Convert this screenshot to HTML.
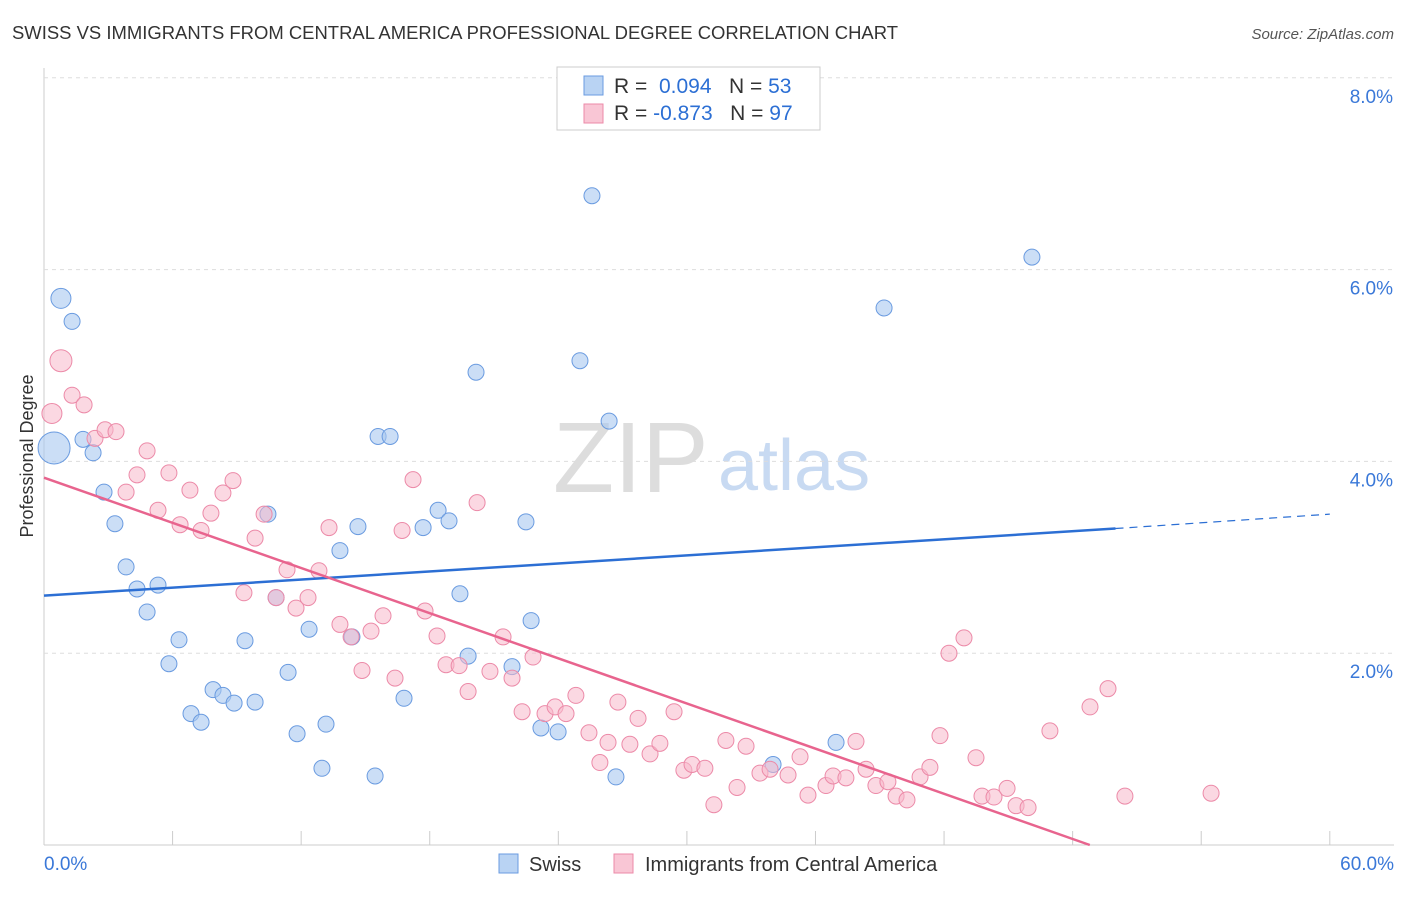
<!DOCTYPE html>
<html><head><meta charset="utf-8"><style>
body{margin:0;background:#fff;font-family:"Liberation Sans",sans-serif}
svg text{font-family:"Liberation Sans",sans-serif}
</style></head><body>
<svg id="chart" width="1406" height="892" viewBox="0 0 1406 892">
<text x="12" y="39" font-size="18" fill="#333" textLength="886" lengthAdjust="spacingAndGlyphs">SWISS VS IMMIGRANTS FROM CENTRAL AMERICA PROFESSIONAL DEGREE CORRELATION CHART</text>
<text x="1394" y="39" font-size="15" fill="#555" font-style="italic" text-anchor="end">Source: ZipAtlas.com</text>
<text x="33" y="456" font-size="18" fill="#333" text-anchor="middle" transform="rotate(-90 33 456)">Professional Degree</text>
<g><text x="553" y="492" font-size="100" fill="#ddd" font-family="Liberation Serif,serif">ZIP</text><text x="718" y="490" font-size="72" fill="#c8daf2">atlas</text></g>
<g id="grid"></g><g id="pts"></g><g id="lines"></g>
<g>
<rect x="557" y="67" width="263" height="63" fill="#fff" stroke="#ccc"/>
<rect x="584" y="76" width="19" height="19" fill="#b9d3f3" stroke="#6a9be0"/>
<rect x="584" y="104" width="19" height="19" fill="#f9c6d5" stroke="#ec8aa8"/>
<text x="614" y="93" font-size="21" fill="#333">R = <tspan fill="#2c6fd4">&#160;0.094</tspan>&#160;&#160;&#160;N = <tspan fill="#2c6fd4">53</tspan></text>
<text x="614" y="120" font-size="21" fill="#333">R = <tspan fill="#2c6fd4">-0.873</tspan>&#160;&#160;&#160;N = <tspan fill="#2c6fd4">97</tspan></text>
</g>
<g>
<rect x="499" y="854" width="19" height="19" fill="#b9d3f3" stroke="#6a9be0"/>
<text x="529" y="871" font-size="20" fill="#333">Swiss</text>
<rect x="614" y="854" width="19" height="19" fill="#f9c6d5" stroke="#ec8aa8"/>
<text x="645" y="871" font-size="20" fill="#333">Immigrants from Central America</text>
</g>
</svg>
<script>
const xTicksVal=[0,6,12,18,24,30,36,42,48,54,60];
const yTicksVal=[2,4,6,8];
const yTickLabels=["2.0%","4.0%","6.0%","8.0%"];
const xEndLabels=["0.0%","60.0%"];
const swissX=[0.79,1.31,0.47,1.82,2.29,2.80,3.31,3.83,4.34,4.81,5.32,5.83,6.30,6.86,7.33,7.89,8.35,8.87,9.38,9.85,10.45,10.83,11.39,11.81,12.37,12.97,13.16,13.81,14.37,14.65,15.45,15.59,16.15,16.80,17.69,18.39,18.90,19.41,19.79,20.16,21.84,22.49,22.73,23.19,23.99,25.01,25.57,26.37,26.69,34.02,36.96,39.20,46.10];
const swissY=[5.70,5.46,4.14,4.23,4.09,3.68,3.35,2.90,2.67,2.43,2.71,1.89,2.14,1.37,1.28,1.62,1.56,1.48,2.13,1.49,3.45,2.58,1.80,1.16,2.25,0.80,1.26,3.07,2.17,3.32,0.72,4.26,4.26,1.53,3.31,3.49,3.38,2.62,1.97,4.93,1.86,3.37,2.34,1.22,1.18,5.05,6.77,4.42,0.71,0.84,1.07,5.60,6.13];
const swissR={0:10,2:16};
const immX=[0.37,0.79,1.31,1.87,2.38,2.85,3.36,3.83,4.34,4.81,5.32,5.83,6.35,6.81,7.33,7.79,8.35,8.82,9.33,9.85,10.27,10.83,11.34,11.76,12.32,12.83,13.30,13.81,14.33,14.84,15.26,15.82,16.38,16.71,17.22,17.78,18.34,18.76,19.37,19.79,20.21,20.81,21.42,21.84,22.31,22.82,23.38,23.85,24.36,24.82,25.43,25.94,26.32,26.78,27.34,27.72,28.28,28.74,29.40,29.86,30.24,30.84,31.26,31.82,32.34,32.76,33.41,33.88,34.72,35.28,35.65,36.49,36.82,37.42,37.89,38.36,38.82,39.38,39.76,40.27,40.88,41.34,41.81,42.23,42.93,43.49,43.77,44.33,44.94,45.36,45.92,46.94,48.81,49.65,50.44,54.46];
const immY=[4.50,5.05,4.69,4.59,4.24,4.33,4.31,3.68,3.86,4.11,3.49,3.88,3.34,3.70,3.28,3.46,3.67,3.80,2.63,3.20,3.45,2.58,2.87,2.47,2.58,2.86,3.31,2.30,2.17,1.82,2.23,2.39,1.74,3.28,3.81,2.44,2.18,1.88,1.87,1.60,3.57,1.81,2.17,1.74,1.39,1.96,1.37,1.44,1.37,1.56,1.17,0.86,1.07,1.49,1.05,1.32,0.95,1.06,1.39,0.78,0.84,0.80,0.42,1.09,0.60,1.03,0.75,0.79,0.73,0.92,0.52,0.62,0.72,0.70,1.08,0.79,0.62,0.66,0.51,0.47,0.71,0.81,1.14,2.00,2.16,0.91,0.51,0.50,0.59,0.41,0.39,1.19,1.44,1.63,0.51,0.54];
const immR={0:10,1:11};
const swissTrend=[2.6,3.3,3.45];
const immTrend=[3.83,0,48.8];
const X=v=>44+v*21.43, Y=v=>845-v*95.9;
const NS="http://www.w3.org/2000/svg";
function mk(t,a,p){const e=document.createElementNS(NS,t);for(const k in a)e.setAttribute(k,a[k]);p.appendChild(e);return e;}
const grid=document.getElementById('grid'),pts=document.getElementById('pts'),lines=document.getElementById('lines');
let ax=mk('line',{x1:44,y1:68,x2:44,y2:845,stroke:'#ccc'},grid);


let bx=mk('line',{x1:44,y1:845,x2:1394,y2:845,stroke:'#ccc'},grid);


xTicksVal.forEach(v=>{const t=mk('line',{x1:X(v),y1:831,x2:X(v),y2:845,stroke:'#ccc'},grid);

});
yTicksVal.forEach((v,i)=>{const g=mk('line',{x1:44,y1:Y(v),x2:1394,y2:Y(v),stroke:'#ddd','stroke-dasharray':'4,4'},grid);


const t=mk('text',{x:1393,y:Y(v)+25,'font-size':19,fill:'#3a78d8','text-anchor':'end'},grid);t.textContent=yTickLabels[i];

});
[[0,'start',44],[1,'end',1394]].forEach(([i,an,x])=>{const t=mk('text',{x:x,y:870,'font-size':19,fill:'#3a78d8','text-anchor':an},grid);t.textContent=xEndLabels[i];

});
swissX.forEach((v,i)=>{const c=mk('circle',{cx:X(v),cy:Y(swissY[i]),r:swissR[i]||8,fill:'rgba(168,200,240,0.6)',stroke:'#6a9be0','stroke-width':1},pts);

});
immX.forEach((v,i)=>{const c=mk('circle',{cx:X(v),cy:Y(immY[i]),r:immR[i]||8,fill:'rgba(247,184,203,0.55)',stroke:'#ec8aa8','stroke-width':1},pts);

});
let l1=mk('line',{x1:X(0),y1:Y(swissTrend[0]),x2:X(50),y2:Y(swissTrend[1]),stroke:'#2c6fd4','stroke-width':2.5},lines);


let l2=mk('line',{x1:X(50),y1:Y(swissTrend[1]),x2:X(60),y2:Y(swissTrend[2]),stroke:'#2c6fd4','stroke-width':1.2,'stroke-dasharray':'8,6'},lines);


let l3=mk('line',{x1:X(0),y1:Y(immTrend[0]),x2:X(immTrend[2]),y2:Y(immTrend[1]),stroke:'#e8648e','stroke-width':2.5},lines);


</script>
</body></html>
